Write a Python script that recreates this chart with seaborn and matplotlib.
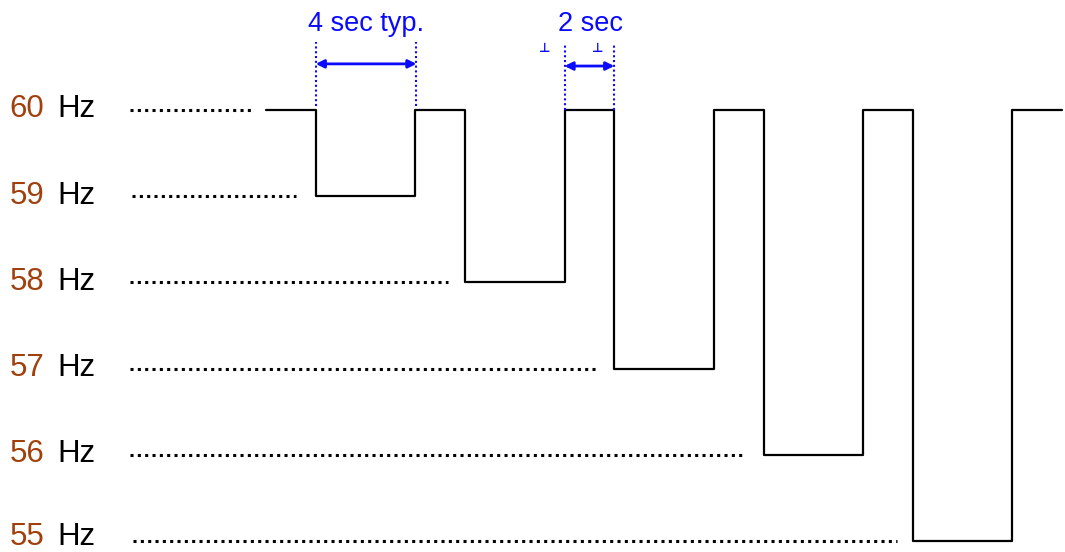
import matplotlib
matplotlib.use("Agg")
import matplotlib.pyplot as plt
import seaborn as sns
import pandas as pd

# frequency levels and their labels
levels = [60, 59, 58, 57, 56, 55]
level_nums = ["60", "59", "58", "57", "56", "55"]
# where the dotted guide for each level starts / stops (seconds)
guide_start = [-5.45, -5.4, -5.45, -5.45, -5.45, -5.35]
guide_end = [-0.52, 1.2, 7.3, 13.3, 19.3, 25.35]

# step waveform (seconds, Hz)
step_t = [0, 2, 6, 8, 12, 14, 18, 20, 24, 26, 30, 32]
step_f = [60, 59, 60, 58, 60, 57, 60, 56, 60, 55, 60, 60]

# timing annotations
span_labels = ["4 sec typ.", "2 sec"]
span_start = [2, 12]
span_end = [6.05, 14]

blue = "#0a0aff"
brown = "#a0400c"

sns.set_style("white")
plt.rcParams["font.family"] = ["Liberation Sans", "DejaVu Sans"]

fig = plt.figure(figsize=(10.65, 5.52), dpi=100)
ax = fig.add_axes([0, 0, 1, 1])

df = pd.DataFrame({"t": step_t, "f": step_f})
sns.lineplot(data=df, x="t", y="f", ax=ax, color="black", lw=1.6,
             drawstyle="steps-post", estimator=None, sort=False)

for lv, num, x0, x1 in zip(levels, level_nums, guide_start, guide_end):
    ax.plot([x0, x1], [lv, lv], color="black", lw=2.2,
            linestyle=(0, (1, 1.4)), dash_capstyle="butt")
    # bottom label sits right at the edge, lift it a touch
    ty = lv - 0.085 if lv > 55 else lv - 0.05
    ax.text(-10.3, ty, num, color=brown, fontsize=22.5, va="baseline", ha="left")
    ax.text(-8.4, ty, "Hz", color="black", fontsize=22.5, va="baseline", ha="left")

# 4 sec span
ax.vlines(span_start[0], 60.05, 60.79, color=blue, lw=1.5, linestyle=(0, (1, 1.3)))
ax.vlines(span_end[0], 60.05, 60.79, color=blue, lw=1.5, linestyle=(0, (1, 1.3)))
ax.annotate("", xy=(span_start[0], 60.535), xytext=(span_end[0], 60.535),
            arrowprops=dict(arrowstyle="<|-|>", color=blue, lw=2, mutation_scale=12,
                            shrinkA=0, shrinkB=0))
ax.text((span_start[0] + span_end[0]) / 2, 60.915, span_labels[0], color=blue,
        fontsize=19.5, ha="center", va="baseline")

# 2 sec span
ax.vlines(span_start[1], 60.0, 60.77, color=blue, lw=1.5, linestyle=(0, (1, 1.3)))
ax.vlines(span_end[1], 60.0, 60.77, color=blue, lw=1.5, linestyle=(0, (1, 1.3)))
ax.annotate("", xy=(span_start[1], 60.51), xytext=(span_end[1], 60.51),
            arrowprops=dict(arrowstyle="<|-|>", color=blue, lw=2, mutation_scale=12,
                            shrinkA=0, shrinkB=0))
ax.text((span_start[1] + span_end[1]) / 2 + 0.05, 60.915, span_labels[1], color=blue,
        fontsize=19.5, ha="center", va="baseline")
for xm in [11.2, 13.35]:
    ax.text(xm, 60.71, "\u22a5", color=blue, fontsize=9, fontweight="bold",
            ha="center", va="center", family=["DejaVu Sans"])

ax.set_xlim(-10.693, 32.12)
ax.set_ylim(54.872, 61.276)
ax.axis("off")

fig.savefig("out.png", dpi=100)
